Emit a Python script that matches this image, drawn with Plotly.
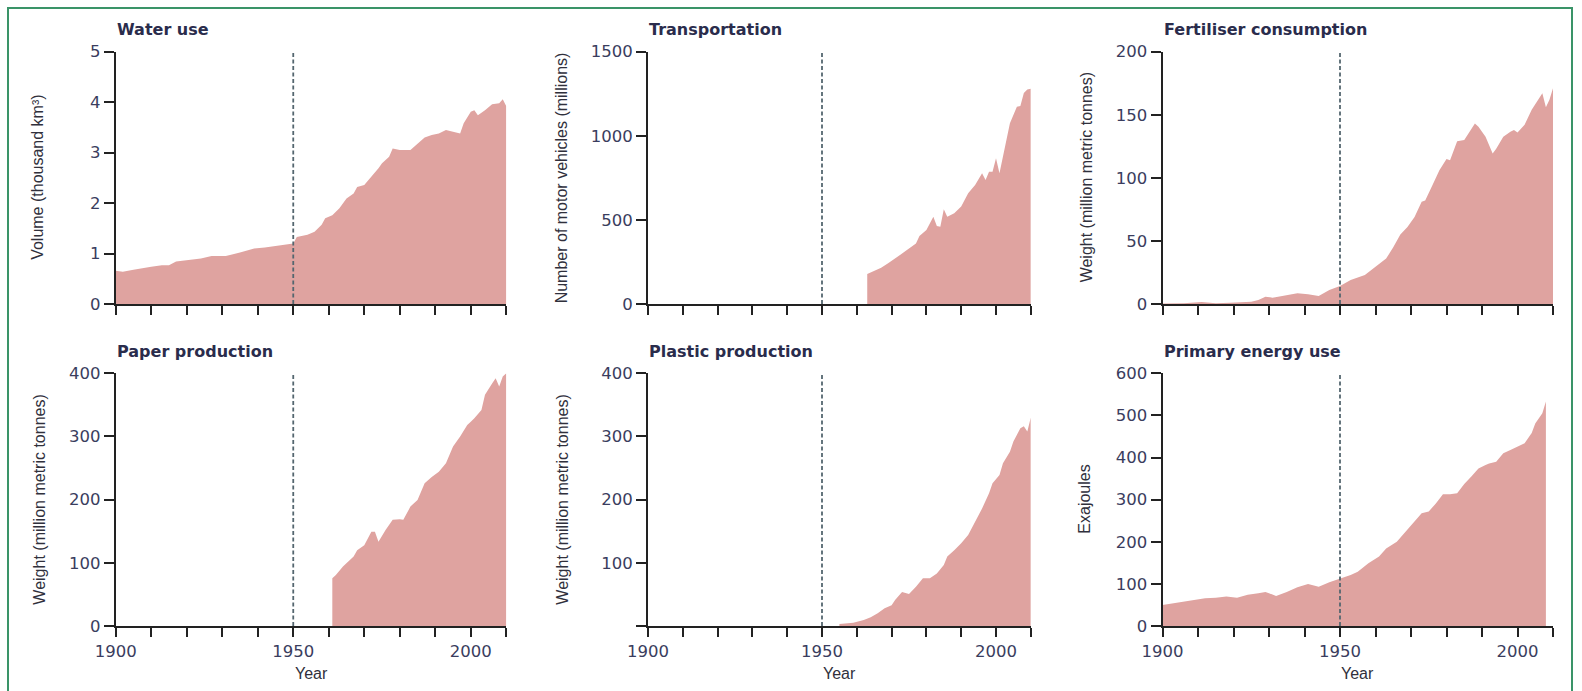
import plotly.graph_objects as go

# ---------------- data ----------------
water_years = [1900, 1902, 1905, 1907, 1910, 1913, 1915, 1917, 1920, 1924, 1927, 1931, 1935, 1939,
               1942, 1946, 1949, 1950, 1951, 1954, 1956, 1958, 1959, 1961, 1963, 1965, 1967, 1968,
               1970, 1972, 1974, 1975, 1977, 1978, 1980, 1983, 1985, 1987, 1989, 1991, 1993, 1995,
               1997, 1998, 2000, 2001, 2002, 2004, 2006, 2008, 2009, 2010]
water_vals = [0.66, 0.64, 0.68, 0.71, 0.74, 0.77, 0.77, 0.84, 0.86, 0.90, 0.95, 0.95, 1.02, 1.10,
              1.12, 1.16, 1.19, 1.20, 1.33, 1.37, 1.43, 1.57, 1.70, 1.76, 1.90, 2.09, 2.19, 2.32,
              2.36, 2.52, 2.69, 2.79, 2.92, 3.08, 3.05, 3.05, 3.18, 3.30, 3.35, 3.38, 3.45, 3.41,
              3.38, 3.58, 3.81, 3.84, 3.74, 3.84, 3.96, 3.98, 4.06, 3.92]

transport_years = [1963, 1965, 1967, 1969, 1970, 1972, 1974, 1976, 1977, 1978, 1980, 1982, 1983,
                   1984, 1985, 1986, 1988, 1990, 1992, 1994, 1996, 1997, 1998, 1999, 2000, 2001,
                   2003, 2004, 2006, 2007, 2008, 2009, 2010]
transport_vals = [178, 195, 216, 242, 255, 285, 315, 345, 360, 405, 440, 519, 464,
                  460, 563, 519, 539, 579, 658, 707, 777, 737, 787, 787, 866, 777,
                  975, 1074, 1173, 1177, 1255, 1275, 1280]

fert_years = [1900, 1906, 1911, 1915, 1919, 1925, 1927, 1929, 1931, 1934, 1938, 1941, 1944, 1947,
              1950, 1953, 1957, 1960, 1963, 1965, 1967, 1969, 1971, 1973, 1974, 1976, 1978, 1980,
              1981, 1983, 1985, 1988, 1989, 1991, 1993, 1994, 1996, 1998, 1999, 2000, 2002, 2004,
              2005, 2007, 2008, 2009, 2010]
fert_vals = [0.3, 0.5, 1.6, 0.5, 1.0, 1.8, 3.2, 5.8, 5.0, 6.6, 8.5, 7.7, 6.3, 11,
             14.3, 19, 23, 29.6, 36, 45, 55, 61, 69, 81, 82, 94, 106, 115,
             114, 129, 130, 143, 140.5, 132.6, 119.4, 123, 132.6, 136.6, 138, 136, 142, 154,
             158, 167, 156, 162, 171]

paper_years = [1961, 1962, 1964, 1966, 1967, 1968, 1970, 1972, 1973, 1974, 1976, 1978, 1980, 1981,
               1983, 1985, 1987, 1989, 1991, 1993, 1995, 1997, 1999, 2000, 2001, 2003, 2004, 2006,
               2007, 2008, 2009, 2010]
paper_vals = [75.5, 80.7, 94, 104.5, 110, 120, 128, 149, 149, 133.5, 152, 168, 169, 168,
              189, 199.5, 226, 236, 244, 257.5, 284, 300, 318, 323.5, 329, 342, 366, 384,
              392, 379, 395, 400]

plastic_years = [1955, 1959, 1962, 1964, 1966, 1968, 1970, 1971, 1973, 1975, 1977, 1979, 1981,
                 1983, 1985, 1986, 1988, 1990, 1992, 1994, 1996, 1998, 1999, 2001, 2002, 2004,
                 2005, 2007, 2008, 2009, 2010]
plastic_vals = [3, 5.3, 9.5, 13.7, 20, 28, 33, 41, 54, 50.7, 62, 75.5, 75.5,
                83, 96.6, 110, 120, 131, 144, 165, 186, 210, 226, 239, 257.5, 276,
                292, 313, 316, 308, 330]

energy_years = [1900, 1903, 1906, 1910, 1912, 1915, 1918, 1921, 1924, 1927, 1929, 1930, 1932, 1935,
                1938, 1941, 1944, 1947, 1950, 1953, 1955, 1958, 1961, 1963, 1966, 1969, 1971, 1973,
                1975, 1977, 1979, 1981, 1983, 1985, 1987, 1989, 1991, 1992, 1994, 1996, 1998, 2000,
                2002, 2004, 2005, 2007, 2008]
energy_vals = [50, 54, 58, 62, 66, 67, 70, 67, 74, 78, 81, 78, 71, 81,
               92, 100, 93, 104, 113, 121, 129, 149, 165, 184, 200, 228, 248, 268,
               272, 291, 313, 313, 315, 337, 355, 374, 382, 386, 390, 410, 418, 426,
               434, 458, 481, 505, 533]

panel_titles = ["Water use", "Transportation", "Fertiliser consumption",
                "Paper production", "Plastic production", "Primary energy use"]
y_titles = ["Volume (thousand km³)", "Number of motor vehicles (millions)",
            "Weight (million metric tonnes)", "Weight (million metric tonnes)",
            "Weight (million metric tonnes)", "Exajoules"]
y_max = [5, 1500, 200, 400, 400, 600]
y_step = [1, 500, 50, 100, 100, 100]
y_labeled = [[0, 1, 2, 3, 4, 5], [0, 500, 1000, 1500], [0, 50, 100, 150, 200],
             [0, 100, 200, 300, 400], [100, 200, 300, 400], [0, 100, 200, 300, 400, 500, 600]]
x_labeled = [1900, 1950, 2000]
x_tick_step = 10
x_title = "Year"
marker_year = 1950

series = [(water_years, water_vals), (transport_years, transport_vals), (fert_years, fert_vals),
          (paper_years, paper_vals), (plastic_years, plastic_vals), (energy_years, energy_vals)]

# ---------------- layout geometry (pixels) ----------------
W, H = 1582, 691
col_px = [(115.7, 506.3), (648.0, 1030.8), (1162.5, 1553.0)]
row_px = [(51.7, 304.0), (373.3, 626.0)]
ytitle_cx = [38, 561.5, 1086.5, 40, 563, 1085]

def px_x(p):
    return p / W

def px_y(p):
    return 1 - p / H

FILL = "#dfa3a0"
AXIS = "#222222"
TICKFONT = dict(family="DejaVu Sans", size=16.5, color="#3a3d5e")
TITLEFONT = dict(family="DejaVu Sans", size=16, color="#2a2c4c")
LABELFONT = dict(family="Liberation Sans", size=16, color="#30303c")

fig = go.Figure()
annotations = []
shapes = []

for i, (yrs, vals) in enumerate(series):
    r, c = divmod(i, 3)
    n = i + 1
    xa = "x" if n == 1 else f"x{n}"
    ya = "y" if n == 1 else f"y{n}"
    fig.add_trace(go.Scatter(
        x=yrs, y=vals, xaxis=xa, yaxis=ya, mode="lines",
        line=dict(width=0, color=FILL), fill="tozeroy", fillcolor=FILL,
        hoverinfo="x+y", showlegend=False))

    x0, x1 = col_px[c]
    yt, yb = row_px[r]
    xkey = "xaxis" if n == 1 else f"xaxis{n}"
    ykey = "yaxis" if n == 1 else f"yaxis{n}"
    fig.update_layout(**{
        xkey: dict(domain=[px_x(x0), px_x(x1)], anchor=ya, range=[1900, 2010], automargin=False,
                   showgrid=False, zeroline=False, showline=True, linecolor=AXIS, linewidth=2,
                   ticks="outside", ticklen=9, tickwidth=2, tickcolor=AXIS,
                   tickmode="array", tickvals=x_labeled, showticklabels=(r == 1),
                   minor=dict(ticks="outside", tick0=1900, dtick=x_tick_step, ticklen=9,
                              tickwidth=2, tickcolor=AXIS, showgrid=False),
                   tickfont=TICKFONT),
        ykey: dict(domain=[px_y(yb), px_y(yt)], anchor=xa, range=[0, y_max[i]], automargin=False,
                   showgrid=False, zeroline=False, showline=True, linecolor=AXIS, linewidth=2,
                   ticks="outside", ticklen=10, tickwidth=1.5, tickcolor=AXIS,
                   tickmode="array", tickvals=y_labeled[i],
                   minor=dict(ticks="outside", tick0=0, dtick=y_step[i], ticklen=10,
                              tickwidth=1.5, tickcolor=AXIS, showgrid=False),
                   tickfont=TICKFONT),
    })

    # dashed 1950 marker
    shapes.append(dict(type="line", xref=xa, yref=ya, x0=marker_year, x1=marker_year,
                       y0=0, y1=y_max[i], line=dict(color="#54666f", width=1.8, dash="4px,2.5px"),
                       layer="above"))
    # panel title
    annotations.append(dict(text=f"<b>{panel_titles[i]}</b>", xref="paper", yref="paper",
                            x=px_x(x0 - 1), y=px_y(yt - 22), xanchor="left", yanchor="middle",
                            showarrow=False, font=TITLEFONT))
    # y-axis title
    annotations.append(dict(text=y_titles[i], xref="paper", yref="paper",
                            x=px_x(ytitle_cx[i]), y=px_y((yt + yb) / 2), textangle=-90,
                            xanchor="center", yanchor="middle", showarrow=False, font=LABELFONT))
    if r == 1:
        annotations.append(dict(text=x_title, xref="paper", yref="paper",
                                x=px_x((x0 + x1) / 2), y=px_y(673), xanchor="center",
                                yanchor="middle", showarrow=False, font=LABELFONT))

# green frame
shapes.append(dict(type="rect", xref="paper", yref="paper", x0=px_x(8), x1=px_x(1572),
                   y0=px_y(700), y1=px_y(8), line=dict(color="#3a9468", width=2), layer="above"))

fig.update_layout(width=W, height=H, margin=dict(l=0, r=0, t=0, b=0, pad=0, autoexpand=False),
                  paper_bgcolor="white", plot_bgcolor="white",
                  shapes=shapes, annotations=annotations, showlegend=False)

fig.write_html("out.html", config={"displayModeBar": False})
